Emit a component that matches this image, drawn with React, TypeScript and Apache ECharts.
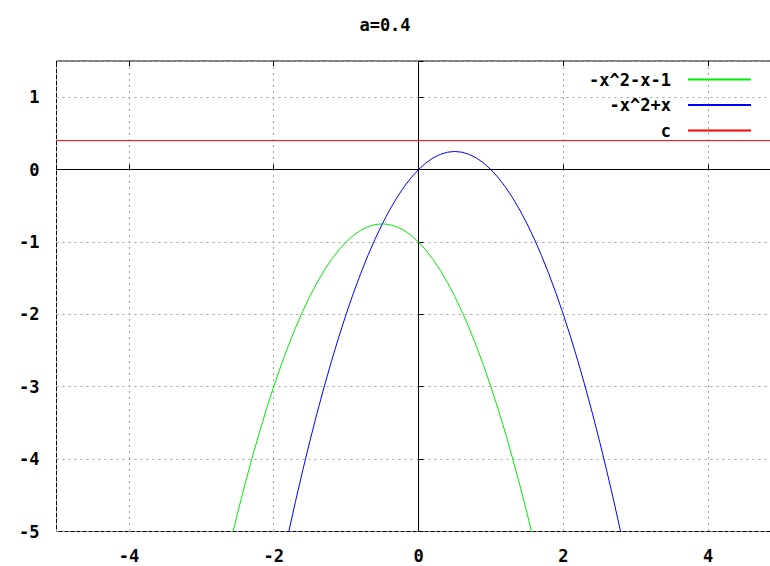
import React, { useEffect, useRef } from "react";
import * as echarts from "echarts";

const titleText = "a=0.4";
const seriesNames = ["-x^2-x-1", "-x^2+x", "c"];
const xs = [
  -2.6, -2.5, -2.4, -2.3, -2.2, -2.1, -2, -1.9, -1.8, -1.7, -1.6, -1.5, -1.4, -1.3, -1.2, -1.1, -1,
  -0.9, -0.8, -0.7, -0.6, -0.5, -0.4, -0.3, -0.2, -0.1, 0, 0.1, 0.2, 0.3, 0.4, 0.5, 0.6, 0.7, 0.8, 0.9,
  1, 1.1, 1.2, 1.3, 1.4, 1.5, 1.6, 1.7, 1.8, 1.9, 2, 2.1, 2.2, 2.3, 2.4, 2.5, 2.6, 2.7, 2.8,
];
const greenY = [
  -5.16, -4.75, -4.36, -3.99, -3.64, -3.31, -3, -2.71, -2.44, -2.19, -1.96, -1.75, -1.56, -1.39, -1.24,
  -1.11, -1, -0.91, -0.84, -0.79, -0.76, -0.75, -0.76, -0.79, -0.84, -0.91, -1, -1.11, -1.24, -1.39,
  -1.56, -1.75, -1.96, -2.19, -2.44, -2.71, -3, -3.31, -3.64, -3.99, -4.36, -4.75, -5.16, -5.59, -6.04,
  -6.51, -7, -7.51, -8.04, -8.59, -9.16, -9.75, -10.36, -10.99, -11.64,
];
const blueY = [
  -9.36, -8.75, -8.16, -7.59, -7.04, -6.51, -6, -5.51, -5.04, -4.59, -4.16, -3.75, -3.36, -2.99, -2.64,
  -2.31, -2, -1.71, -1.44, -1.19, -0.96, -0.75, -0.56, -0.39, -0.24, -0.11, 0, 0.09, 0.16, 0.21, 0.24,
  0.25, 0.24, 0.21, 0.16, 0.09, 0, -0.11, -0.24, -0.39, -0.56, -0.75, -0.96, -1.19, -1.44, -1.71, -2,
  -2.31, -2.64, -2.99, -3.36, -3.75, -4.16, -4.59, -5.04,
];
const cX = [-5, 5];
const cY = [0.4, 0.4];
const xRange = [-5, 5];
const yRange = [-5, 1.5];

const FONT = "DejaVu Sans Mono";

export default function App() {
  const ref = useRef<HTMLDivElement>(null);
  useEffect(() => {
    if (!ref.current) return;
    const chart = echarts.init(ref.current, null, { renderer: "svg" });
    const pair = (x: number[], y: number[]) => x.map((v, i) => [v, y[i]]);
    const gridLine = { show: true, lineStyle: { color: "#a0a0a0", type: [2, 4] as any, width: 1 } };
    const labelStyle = { fontFamily: FONT, fontWeight: "bold" as const, fontSize: 17, color: "#000" };
    const tick = { show: true, inside: true, length: 5, lineStyle: { color: "#000" } };
    chart.setOption({
      animation: false,
      backgroundColor: "#fff",
      title: {
        text: titleText,
        left: "center",
        top: 11,
        textStyle: { ...labelStyle },
      },
      grid: {
        left: 56.5,
        top: 61,
        width: 724,
        height: 470.5,
        outerBoundsMode: "none",
        containLabel: false,
        show: true,
        borderColor: "#000",
        borderWidth: 1,
        backgroundColor: "transparent",
      },
      legend: {
        orient: "vertical",
        align: "right",
        right: 13,
        top: 66,
        itemWidth: 63,
        itemHeight: 14,
        itemGap: 8.5,
        itemStyle: { opacity: 0 },
        textStyle: { ...labelStyle, lineHeight: 17, padding: [0, 12, 0, 0] },
        data: seriesNames,
      },
      xAxis: [
        {
          type: "value",
          min: xRange[0],
          max: xRange[1],
          splitNumber: 5,
          axisLine: { show: false },
          axisTick: tick,
          axisLabel: {
            ...labelStyle,
            margin: 16,
            formatter: (v: number) => (Math.abs(v) === 5 ? "" : String(v)),
          },
          splitLine: gridLine,
        },
        {
          type: "value",
          position: "top",
          min: xRange[0],
          max: xRange[1],
          splitNumber: 5,
          axisLine: { show: false },
          axisTick: tick,
          axisLabel: { show: false },
          splitLine: { show: false },
        },
      ],
      yAxis: {
        type: "value",
        min: yRange[0],
        max: yRange[1],
        interval: 1,
        axisLine: { show: false },
        axisTick: tick,
        axisLabel: {
          ...labelStyle,
          margin: 17,
          formatter: (v: number) => (Number.isInteger(v) ? String(v) : ""),
        },
        splitLine: gridLine,
      },
      series: [
        {
          name: seriesNames[0],
          type: "line",
          data: pair(xs, greenY),
          symbol: "none",
          lineStyle: { color: "#00ee00", width: 1 },
          itemStyle: { color: "#00ee00" },
          clip: true,
          z: 3,
        },
        {
          name: seriesNames[1],
          type: "line",
          data: pair(xs, blueY),
          symbol: "none",
          lineStyle: { color: "#0000ff", width: 1 },
          itemStyle: { color: "#0000ff" },
          clip: true,
          z: 3,
        },
        {
          name: seriesNames[2],
          type: "line",
          data: pair(cX, cY),
          symbol: "none",
          lineStyle: { color: "#ff0000", width: 1 },
          itemStyle: { color: "#ff0000" },
          clip: true,
          z: 3,
          markLine: {
            silent: true,
            symbol: "none",
            label: { show: false },
            lineStyle: { color: "#000", type: "solid", width: 1 },
            data: [{ xAxis: 0 }, { yAxis: 0 }],
            z: 2,
          },
        },
      ],
    });
    return () => chart.dispose();
  }, []);
  return (
    <div
      ref={ref}
      style={{ position: "absolute", left: 0, top: 0, width: 770, height: 566 }}
    />
  );
}
